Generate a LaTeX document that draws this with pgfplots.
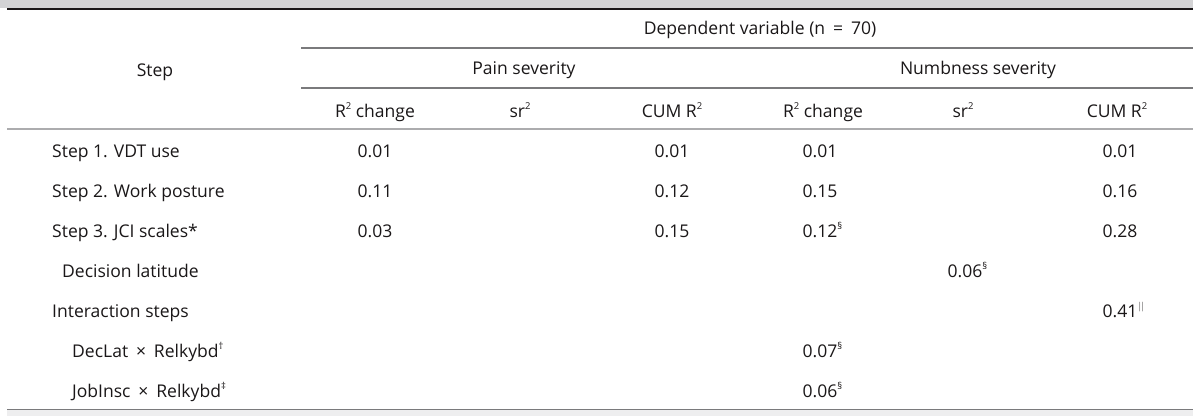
\documentclass[border=0pt]{standalone}
\usepackage{pgfplots}
\pgfplotsset{compat=1.18}
\usepackage{fontspec}
\setmainfont{Open Sans}
\definecolor{txt}{HTML}{1A1718}
\definecolor{bandtop}{HTML}{D3D3D5}
\definecolor{bandbot}{HTML}{EEEEEF}
\definecolor{rule}{HTML}{7A7A7C}
\definecolor{rulelight}{HTML}{ACACAE}
\newcommand{\num}[1]{\pgfmathprintnumber[fixed,zerofill,precision=2,assume math mode=true]{#1}}
\newcommand{\sups}[1]{\raisebox{0.8ex}{\fontsize{9.5}{10}\selectfont #1}}
\begin{document}
\begin{tikzpicture}[font=\fontsize{17.6}{20}\selectfont, text=txt]
\begin{axis}[width=1200bp,height=416bp,scale only axis,
  xmin=0,xmax=1200,ymin=0,ymax=416,y dir=reverse,
  hide axis,clip=false,
  every node near coord/.style={anchor=base,text=txt,inner sep=0pt}]
% background bands and rules
\path (axis cs:0,0) rectangle (axis cs:1200,416);
\fill[bandtop] (axis cs:0,0) rectangle (axis cs:1193,8);
\draw[txt,line width=2.6bp] (axis cs:7,9) -- (axis cs:1193,9);
\draw[rule,line width=1.1bp] (axis cs:301,48) -- (axis cs:1193,48);
\draw[rule,line width=1.1bp] (axis cs:301,88) -- (axis cs:1193,88);
\draw[rulelight,line width=2bp] (axis cs:7,129) -- (axis cs:1193,129);
\fill[bandbot] (axis cs:7,410) rectangle (axis cs:1193,416);
\draw[rule,line width=1.3bp] (axis cs:7,409.5) -- (axis cs:1193,409.5);
% headers
\begin{scope}[every node/.style={anchor=base,inner sep=0pt}]
\node at (axis cs:760,35) {Dependent variable (n\hspace{0.45em}=\hspace{0.45em}70)};
\node at (axis cs:155,77) {Step};
\node at (axis cs:524,75) {Pain severity};
\node at (axis cs:978,75) {Numbness severity};
\node at (axis cs:375,117) {R\sups{2} change};
\node at (axis cs:520,117) {sr\sups{2}};
\node at (axis cs:672,117) {CUM R\sups{2}};
\node at (axis cs:823,117) {R\sups{2} change};
\node at (axis cs:963,117) {sr\sups{2}};
\node at (axis cs:1117,117) {CUM R\sups{2}};
% row labels
\node[anchor=base west] at (axis cs:52,157) {Step 1. VDT use};
\node[anchor=base west] at (axis cs:52,197) {Step 2. Work posture};
\node[anchor=base west] at (axis cs:52,237) {Step 3. JCI scales*};
\node[anchor=base west] at (axis cs:62,277) {Decision latitude};
\node[anchor=base west] at (axis cs:52,317) {Interaction steps};
\node[anchor=base west] at (axis cs:72,357) {DecLat\hspace{0.45em}×\hspace{0.45em}Relkybd\sups{†}};
\node[anchor=base west] at (axis cs:72,397) {JobInsc\hspace{0.45em}×\hspace{0.45em}Relkybd\sups{‡}};
\end{scope}
% Pain severity: R2 change
\addplot[draw=none,mark=none,point meta=explicit,
  nodes near coords={\num{\pgfplotspointmeta}}]
  table[x=x,y=y,meta=v,row sep=\\]{x y v\\ 375 157 0.01\\ 375 197 0.11\\ 375 237 0.03\\};
% Pain severity: CUM R2
\addplot[draw=none,mark=none,point meta=explicit,
  nodes near coords={\num{\pgfplotspointmeta}}]
  table[x=x,y=y,meta=v,row sep=\\]{x y v\\ 672 157 0.01\\ 672 197 0.12\\ 672 237 0.15\\};
% Numbness severity: R2 change
\addplot[draw=none,mark=none,point meta=explicit,
  nodes near coords={\num{\pgfplotspointmeta}}]
  table[x=x,y=y,meta=v,row sep=\\]{x y v\\ 820 157 0.01\\ 820 197 0.15\\};
\addplot[draw=none,mark=none,point meta=explicit,
  nodes near coords={\num{\pgfplotspointmeta}\rlap{\sups{§}}}]
  table[x=x,y=y,meta=v,row sep=\\]{x y v\\ 820 237 0.12\\ 820 357 0.07\\ 820 397 0.06\\};
% Numbness severity: sr2
\addplot[draw=none,mark=none,point meta=explicit,
  nodes near coords={\num{\pgfplotspointmeta}\rlap{\sups{§}}}]
  table[x=x,y=y,meta=v,row sep=\\]{x y v\\ 965 277 0.06\\};
% Numbness severity: CUM R2
\addplot[draw=none,mark=none,point meta=explicit,
  nodes near coords={\num{\pgfplotspointmeta}}]
  table[x=x,y=y,meta=v,row sep=\\]{x y v\\ 1120 157 0.01\\ 1120 197 0.16\\ 1120 237 0.28\\};
\addplot[draw=none,mark=none,point meta=explicit,
  nodes near coords={\num{\pgfplotspointmeta}\rlap{\sups{\kern1pt\scalebox{0.6}[1]{|}\kern-0.5pt\scalebox{0.6}[1]{|}}}}]
  table[x=x,y=y,meta=v,row sep=\\]{x y v\\ 1120 317 0.41\\};
\end{axis}
\end{tikzpicture}
\end{document}
